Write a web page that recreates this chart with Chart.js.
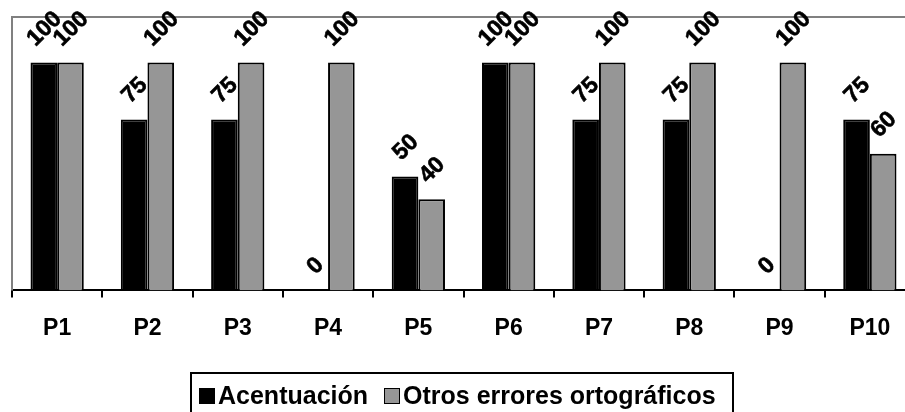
<!DOCTYPE html>
<html>
<head>
<meta charset="utf-8">
<script src="https://cdn.jsdelivr.net/npm/chart.js"></script>
<style>
  html, body { margin: 0; padding: 0; background: #fff; overflow: hidden; }
  #wrap { position: relative; width: 905px; height: 412px; overflow: hidden; }
  #chartBox { position: absolute; left: 0; top: 0; width: 930px; height: 412px; }
  #legend {
    position: absolute; left: 190px; top: 372px; height: 50px;
    border: 2px solid #000; box-sizing: border-box;
    display: flex; align-items: flex-start; padding: 7px 16px 0 7px;
    font: bold 25px "Liberation Sans", Arial, sans-serif; color: #000;
    white-space: nowrap;
  }
  .item { display: flex; align-items: center; margin-right: 16px; }
  .item:last-child { margin-right: 0; }
  .sw { width: 14px; height: 14px; border: 1px solid #000; margin-right: 3px; }
</style>
</head>
<body>
<div id="wrap">
  <div id="chartBox"><canvas id="errorsChart"></canvas></div>
  <div id="legend"></div>
</div>
<script>
// Chart data
const categories = ['P1', 'P2', 'P3', 'P4', 'P5', 'P6', 'P7', 'P8', 'P9', 'P10'];
const seriesNames = ['Acentuación', 'Otros errores ortográficos'];
const acentuacion = [100, 75, 75, 0, 50, 100, 75, 75, 0, 75];
const otrosErrores = [100, 100, 100, 100, 40, 100, 100, 100, 100, 60];
const seriesColors = ['#000000', '#969696'];

const FONT = '"Liberation Sans", Arial, sans-serif';

// Draw the rotated value labels above each bar
const valueLabels = {
  id: 'valueLabels',
  afterDatasetsDraw(chart) {
    const ctx = chart.ctx;
    ctx.save();
    ctx.font = 'bold 23px ' + FONT;
    ctx.fillStyle = '#000';
    ctx.strokeStyle = '#000';
    ctx.lineWidth = 0.6;
    ctx.textAlign = 'center';
    ctx.textBaseline = 'middle';
    chart.data.datasets.forEach((ds, i) => {
      chart.getDatasetMeta(i).data.forEach((bar, j) => {
        const text = String(ds.data[j]);
        const w = ctx.measureText(text).width;
        const h = 16;
        const cy = bar.y - 15 - (w + h) / (2 * Math.SQRT2);
        ctx.save();
        ctx.translate(bar.x, cy);
        ctx.rotate(-Math.PI / 4);
        ctx.fillText(text, 0, 1);
        ctx.strokeText(text, 0, 1);
        ctx.restore();
      });
    });
    ctx.restore();
  }
};

// Gray frame on the top and left of the plot area
const plotFrame = {
  id: 'plotFrame',
  beforeDatasetsDraw(chart) {
    const { ctx, chartArea } = chart;
    ctx.save();
    ctx.strokeStyle = '#808080';
    ctx.lineWidth = 2;
    ctx.beginPath();
    ctx.moveTo(chartArea.left, chartArea.bottom);
    ctx.lineTo(chartArea.left, chartArea.top);
    ctx.lineTo(chartArea.right, chartArea.top);
    ctx.lineTo(chartArea.right, chartArea.bottom);
    ctx.stroke();
    ctx.restore();
  }
};

new Chart(document.getElementById('errorsChart'), {
  type: 'bar',
  data: {
    labels: categories,
    datasets: [
      {
        label: seriesNames[0],
        data: acentuacion,
        backgroundColor: seriesColors[0],
        borderColor: '#000',
        borderWidth: 2,
        barPercentage: 1,
        categoryPercentage: 0.59
      },
      {
        label: seriesNames[1],
        data: otrosErrores,
        backgroundColor: seriesColors[1],
        borderColor: '#000',
        borderWidth: 2,
        barPercentage: 1,
        categoryPercentage: 0.59
      }
    ]
  },
  options: {
    responsive: true,
    maintainAspectRatio: false,
    animation: false,
    layout: {
      padding: { left: 12, right: 15, top: 17, bottom: 53 }
    },
    plugins: {
      legend: { display: false },
      tooltip: { enabled: false }
    },
    scales: {
      x: {
        offset: true,
        border: { color: '#000', width: 2 },
        grid: {
          offset: true,
          drawOnChartArea: false,
          color: '#000',
          lineWidth: 2,
          tickLength: 7
        },
        ticks: {
          color: '#000',
          padding: 17,
          maxRotation: 0,
          font: { family: FONT, size: 23, weight: 'bold' }
        }
      },
      y: {
        display: false,
        min: 0,
        max: 120
      }
    }
  },
  plugins: [plotFrame, valueLabels]
});

// Boxed legend below the chart
const legendEl = document.getElementById('legend');
seriesNames.forEach((name, i) => {
  const item = document.createElement('div');
  item.className = 'item';
  const sw = document.createElement('span');
  sw.className = 'sw';
  sw.style.background = seriesColors[i];
  const label = document.createElement('span');
  label.textContent = name;
  item.appendChild(sw);
  item.appendChild(label);
  legendEl.appendChild(item);
});
</script>
</body>
</html>
